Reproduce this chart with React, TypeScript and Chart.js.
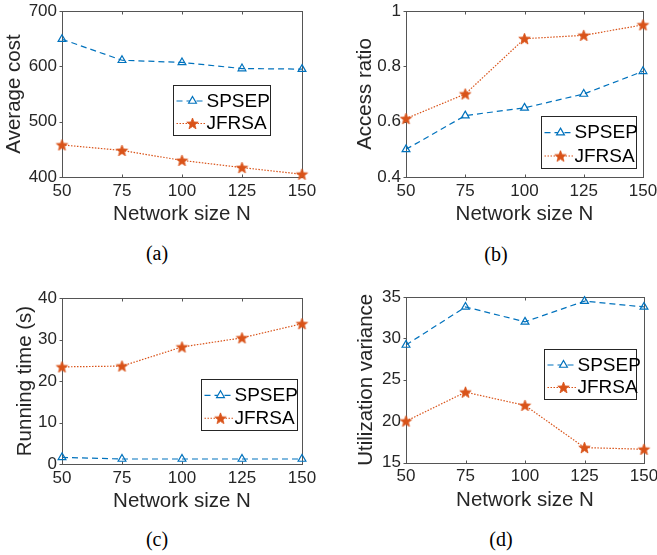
import React, { useEffect, useRef } from 'react';
import { Chart, registerables } from 'chart.js';

Chart.register(...registerables);

// ---------- data ----------
const networkSizes = [50, 75, 100, 125, 150];
const xTickValues = [50, 75, 100, 125, 150];
const seriesNames = ['SPSEP', 'JFRSA'];
const xAxisTitle = 'Network size N';

const costSPSEP = [649, 611, 607, 596, 595];
const costJFRSA = [458, 448, 430, 417, 405];
const costTicks = [400, 500, 600, 700];

const accessSPSEP = [0.5, 0.622, 0.65, 0.7, 0.782];
const accessJFRSA = [0.611, 0.7, 0.9, 0.912, 0.95];
const accessTicks = [0.4, 0.6, 0.8, 1];

const timeSPSEP = [1.6, 1.2, 1.2, 1.2, 1.2];
const timeJFRSA = [23.4, 23.6, 28.2, 30.4, 33.8];
const timeTicks = [0, 10, 20, 30, 40];

const varSPSEP = [29.2, 33.8, 32.0, 34.5, 33.8];
const varJFRSA = [20.0, 23.5, 21.9, 16.8, 16.6];
const varTicks = [15, 20, 25, 30, 35];

// ---------- styles ----------
const BLUE = '#0072BD';
const ORANGE = '#D95319';
const AXIS = '#555555';
const TEXT = '#262626';
const SANS = "'Liberation Sans', Arial, Helvetica, sans-serif";
const SERIF = "'Liberation Serif', 'Times New Roman', serif";
const X_AXIS_H = 50;

type Panel = {
  key: string;
  yTitle: string;
  caption: string;
  a: number[];
  b: number[];
  yTicks: number[];
  canvas: { left: number; top: number; w: number; h: number };
  plot: { l: number; r: number; t: number; b: number };
  titlePad: number;
  legend: { dx: number; dy: number; w: number; h: number };
  cap: { x: number; y: number };
};

const panels: Panel[] = [
  {
    key: 'a', yTitle: 'Average cost', caption: '(a)', a: costSPSEP, b: costJFRSA, yTicks: costTicks,
    canvas: { left: 0, top: 0, w: 330, h: 240 },
    plot: { l: 62, r: 302, t: 11, b: 177 },
    titlePad: 1.7,
    legend: { dx: 111, dy: 74, w: 97, h: 50 },
    cap: { x: 157, y: 255 },
  },
  {
    key: 'b', yTitle: 'Access ratio', caption: '(b)', a: accessSPSEP, b: accessJFRSA, yTicks: accessTicks,
    canvas: { left: 330, top: 0, w: 327, h: 240 },
    plot: { l: 406, r: 643, t: 11, b: 177 },
    titlePad: 22.7,
    legend: { dx: 135, dy: 105, w: 95, h: 52 },
    cap: { x: 496, y: 256 },
  },
  {
    key: 'c', yTitle: 'Running time (s)', caption: '(c)', a: timeSPSEP, b: timeJFRSA, yTicks: timeTicks,
    canvas: { left: 0, top: 280, w: 330, h: 240 },
    plot: { l: 62, r: 302, t: 298, b: 464 },
    titlePad: 12.7,
    legend: { dx: 139, dy: 81, w: 96, h: 51 },
    cap: { x: 157, y: 541 },
  },
  {
    key: 'd', yTitle: 'Utilization variance', caption: '(d)', a: varSPSEP, b: varJFRSA, yTicks: varTicks,
    canvas: { left: 330, top: 280, w: 327, h: 240 },
    plot: { l: 406, r: 644, t: 297, b: 462.5 },
    titlePad: 24.4,
    legend: { dx: 138, dy: 52, w: 92, h: 50 },
    cap: { x: 501, y: 541 },
  },
];

function makeStar(color: string, R: number): HTMLCanvasElement {
  const size = Math.ceil(R * 2 + 3);
  const c = document.createElement('canvas');
  c.width = size;
  c.height = size;
  const ctx = c.getContext('2d')!;
  const cx = size / 2, cy = size / 2 + 0.5;
  const r = R * 0.42;
  ctx.beginPath();
  for (let i = 0; i < 10; i++) {
    const ang = -Math.PI / 2 + (i * Math.PI) / 5;
    const rad = i % 2 === 0 ? R : r;
    const x = cx + rad * Math.cos(ang);
    const y = cy + rad * Math.sin(ang);
    if (i === 0) ctx.moveTo(x, y); else ctx.lineTo(x, y);
  }
  ctx.closePath();
  ctx.fillStyle = color;
  ctx.fill();
  ctx.strokeStyle = color;
  ctx.lineWidth = 0.8;
  ctx.stroke();
  return c;
}

const boxPlugin = {
  id: 'matlabBox',
  beforeDatasetsDraw(chart: any) {
    const { ctx, chartArea } = chart;
    const l = Math.round(chartArea.left) + 0.5;
    const r = Math.round(chartArea.right) + 0.5;
    const t = Math.round(chartArea.top) + 0.5;
    const b = Math.round(chartArea.bottom) + 0.5;
    ctx.save();
    ctx.strokeStyle = AXIS;
    ctx.lineWidth = 1;
    ctx.strokeRect(l, t, r - l, b - t);
    const xs = chart.scales.x;
    const ys = chart.scales.y;
    ctx.beginPath();
    xs.ticks.forEach((tk: any) => {
      const px = Math.round(xs.getPixelForValue(tk.value)) + 0.5;
      ctx.moveTo(px, b);
      ctx.lineTo(px, b - 3);
      ctx.moveTo(px, t);
      ctx.lineTo(px, t + 3);
    });
    ys.ticks.forEach((tk: any) => {
      const py = Math.round(ys.getPixelForValue(tk.value)) + 0.5;
      ctx.moveTo(l, py);
      ctx.lineTo(l - 3, py);
    });
    ctx.stroke();
    ctx.restore();
  },
};

const legendPlugin = {
  id: 'matlabLegend',
  afterDatasetsDraw(chart: any, _args: any, opts: any) {
    const { ctx, chartArea } = chart;
    const x0 = Math.round(chartArea.left + opts.dx) + 0.5;
    const y0 = Math.round(chartArea.top + opts.dy) + 0.5;
    const w = opts.w, h = opts.h;
    ctx.save();
    ctx.fillStyle = '#ffffff';
    ctx.fillRect(x0, y0, w, h);
    ctx.strokeStyle = '#262626';
    ctx.lineWidth = 1;
    ctx.strokeRect(x0, y0, w, h);
    chart.data.datasets.forEach((ds: any, i: number) => {
      const cy = y0 + h * 0.31 + i * h * 0.45;
      ctx.strokeStyle = ds.borderColor;
      ctx.lineWidth = ds.borderWidth;
      ctx.setLineDash(ds.borderDash || []);
      ctx.beginPath();
      ctx.moveTo(x0 + 3, cy);
      ctx.lineTo(x0 + 32, cy);
      ctx.stroke();
      ctx.setLineDash([]);
      const mx = x0 + 19;
      const ps = ds.pointStyle;
      if (typeof ps === 'string') {
        const rad = ds.pointRadius;
        ctx.beginPath();
        let a = 0;
        ctx.moveTo(mx + Math.sin(a) * rad, cy - Math.cos(a) * rad);
        a += (2 * Math.PI) / 3;
        ctx.lineTo(mx + Math.sin(a) * rad, cy - Math.cos(a) * rad);
        a += (2 * Math.PI) / 3;
        ctx.lineTo(mx + Math.sin(a) * rad, cy - Math.cos(a) * rad);
        ctx.closePath();
        ctx.fillStyle = '#ffffff';
        ctx.fill();
        ctx.strokeStyle = ds.pointBorderColor;
        ctx.lineWidth = ds.pointBorderWidth;
        ctx.stroke();
      } else {
        ctx.drawImage(ps, mx - ps.width / 2, cy - ps.height / 2);
      }
      ctx.fillStyle = '#000000';
      ctx.font = `19px ${SANS}`;
      ctx.textBaseline = 'middle';
      ctx.textAlign = 'left';
      ctx.fillText(ds.label, x0 + 33, cy + 0.5);
    });
    ctx.restore();
  },
};

function PanelChart({ p }: { p: Panel }) {
  const ref = useRef<HTMLCanvasElement | null>(null);
  useEffect(() => {
    if (!ref.current) return;
    const star = makeStar(ORANGE, 6);
    const yMin = p.yTicks[0];
    const yMax = p.yTicks[p.yTicks.length - 1];
    const yw = p.plot.l - p.canvas.left;
    const padTop = p.plot.t - p.canvas.top;
    const padRight = p.canvas.left + p.canvas.w - p.plot.r;
    const padBottom = p.canvas.top + p.canvas.h - p.plot.b - X_AXIS_H;
    const chart = new Chart(ref.current, {
      type: 'line',
      data: {
        datasets: [
          {
            label: seriesNames[0],
            data: networkSizes.map((n, i) => ({ x: n, y: p.a[i] })),
            borderColor: BLUE,
            borderWidth: 1.2,
            borderDash: [6, 4],
            pointStyle: 'triangle',
            pointRadius: 4.5,
            pointBorderWidth: 1.2,
            pointBorderColor: BLUE,
            pointBackgroundColor: 'rgba(255,255,255,0)',
            fill: false,
            tension: 0,
            clip: false,
          } as any,
          {
            label: seriesNames[1],
            data: networkSizes.map((n, i) => ({ x: n, y: p.b[i] })),
            borderColor: ORANGE,
            borderWidth: 1.2,
            borderDash: [1.5, 1.5],
            pointStyle: star,
            pointRadius: 6,
            pointBorderColor: ORANGE,
            pointBackgroundColor: ORANGE,
            fill: false,
            tension: 0,
            clip: false,
          } as any,
        ],
      },
      options: {
        animation: false,
        responsive: false,
        maintainAspectRatio: false,
        events: [],
        layout: { padding: { left: 0, top: padTop, right: padRight, bottom: padBottom } },
        plugins: {
          legend: { display: false },
          tooltip: { enabled: false },
          matlabLegend: p.legend,
        } as any,
        scales: {
          x: {
            type: 'linear',
            min: xTickValues[0],
            max: xTickValues[xTickValues.length - 1],
            afterBuildTicks: (s: any) => { s.ticks = xTickValues.map((v) => ({ value: v })); },
            afterFit: (s: any) => { s.height = X_AXIS_H; s.paddingLeft = 0; s.paddingRight = 0; },
            grid: { display: false, drawTicks: false },
            border: { display: false },
            ticks: {
              padding: 4,
              color: TEXT,
              font: { family: SANS, size: 17 },
              maxRotation: 0,
              autoSkip: false,
              callback: (v: any) => String(v),
            },
            title: {
              display: true,
              text: xAxisTitle,
              color: TEXT,
              font: { family: SANS, size: 20.5 },
              padding: 0,
            },
          },
          y: {
            type: 'linear',
            min: yMin,
            max: yMax,
            afterBuildTicks: (s: any) => { s.ticks = p.yTicks.map((v) => ({ value: v })); },
            afterFit: (s: any) => { s.width = yw; s.paddingTop = 0; s.paddingBottom = 0; },
            grid: { display: false, drawTicks: false },
            border: { display: false },
            ticks: {
              padding: 5,
              color: TEXT,
              font: { family: SANS, size: 17 },
              autoSkip: false,
              callback: (v: any) => String(Math.round(v * 1000) / 1000),
            },
            title: {
              display: true,
              text: p.yTitle,
              color: TEXT,
              font: { family: SANS, size: 20.5 },
              padding: { top: p.titlePad, bottom: 0 },
            },
          },
        },
      } as any,
      plugins: [boxPlugin, legendPlugin],
    });
    return () => chart.destroy();
  }, [p]);

  return (
    <div style={{ position: 'absolute', left: p.canvas.left, top: p.canvas.top, width: p.canvas.w, height: p.canvas.h }}>
      <canvas ref={ref} width={p.canvas.w} height={p.canvas.h} style={{ display: 'block' }} />
    </div>
  );
}

export default function App() {
  return (
    <div style={{ position: 'absolute', left: 0, top: 0, width: 657, height: 555, overflow: 'hidden', background: '#ffffff' }}>
      {panels.map((p) => (
        <PanelChart key={p.key} p={p} />
      ))}
      {panels.map((p) => (
        <div
          key={'cap-' + p.key}
          style={{
            position: 'absolute',
            left: p.cap.x - 30,
            top: p.cap.y - 12,
            width: 60,
            height: 20,
            lineHeight: '20px',
            textAlign: 'center',
            fontFamily: SERIF,
            fontSize: 20,
            color: '#000',
          }}
        >
          {p.caption}
        </div>
      ))}
    </div>
  );
}
